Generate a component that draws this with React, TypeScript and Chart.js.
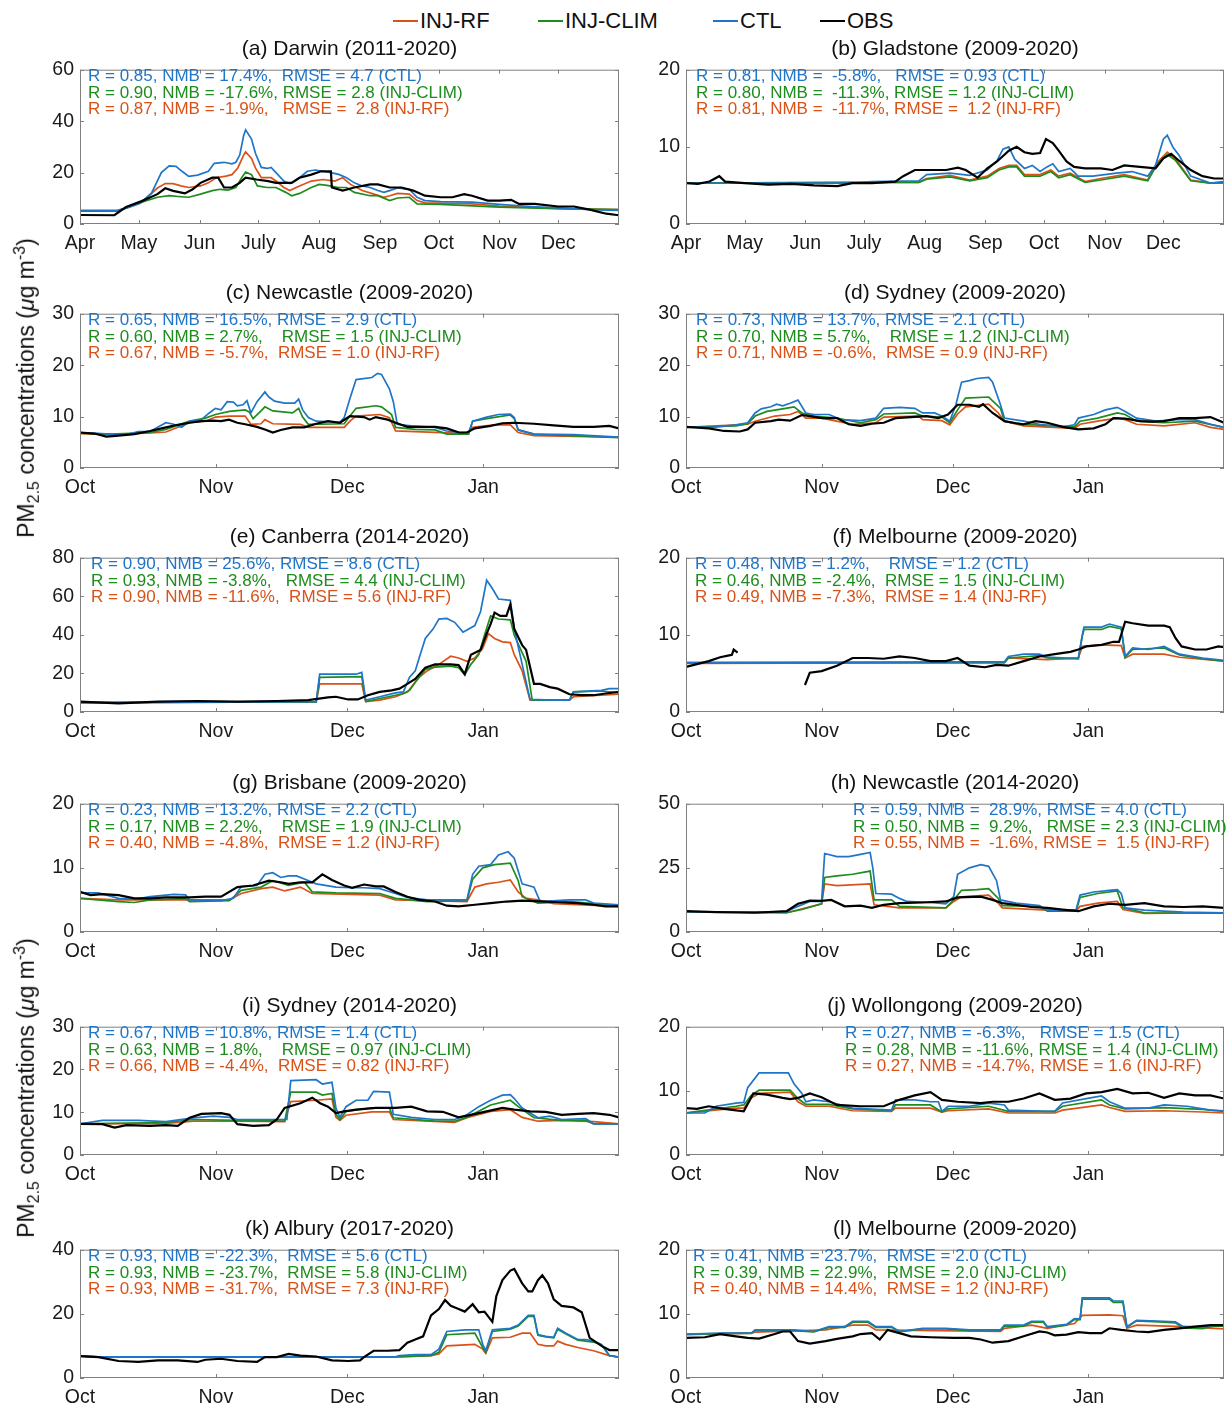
import React, { useEffect, useRef } from 'react';
import { Chart, registerables } from 'chart.js';

Chart.register(...registerables);

const FONT = '"Liberation Sans", Arial, Helvetica, sans-serif';

const COLOR_RF = '#D95319';
const COLOR_CLIM = '#1E8C1E';
const COLOR_CTL = '#1F76C8';
const COLOR_OBS = '#000000';

const seriesNames = ['INJ-RF', 'INJ-CLIM', 'CTL', 'OBS'];
const seriesColors = [COLOR_RF, COLOR_CLIM, COLOR_CTL, COLOR_OBS];

// x axis: day offset from the first day of the season
const aprDecTickDays = [0, 30, 61, 91, 122, 153, 183, 214, 244];
const aprDecTickLabels = ['Apr', 'May', 'Jun', 'July', 'Aug', 'Sep', 'Oct', 'Nov', 'Dec'];
const aprDecLength = 275;
const octJanTickDays = [0, 31, 61, 92];
const octJanTickLabels = ['Oct', 'Nov', 'Dec', 'Jan'];
const octJanLength = 123;

const ticks20 = [0, 10, 20];
const ticks30 = [0, 10, 20, 30];
const ticks40 = [0, 20, 40];
const ticks50 = [0, 25, 50];
const ticks60 = [0, 20, 40, 60];
const ticks80 = [0, 20, 40, 60, 80];

// ---- (a) Darwin ----
const darwinCtl = [[0,5.3],[19,5.3],[25,6.5],[30.5,8],[36.5,12],[41.5,20],[45.5,22.6],[49,22.4],[52,20.5],[55.5,18.5],[60,19],[65.5,20.5],[68.5,23.6],[73.5,24],[77.5,23.4],[79.5,24],[81.5,26.8],[83.5,34.4],[84.5,36.6],[87.5,33],[89.5,27.5],[92.5,22],[95.5,21.6],[97.5,22],[100,20],[104,16.7],[107,15.7],[112,18],[116,20.5],[120,21],[124,20.5],[128,20],[132,19.3],[136,18],[140,16],[144,14.8],[148,14.2],[152,13],[155,12.3],[158,13],[162,14],[168,13.5],[172,10.4],[176,9.1],[184,8.7],[200,8.5],[214,7.6],[230,6.8],[244,6.3],[260,5.6],[275,5.3]];
const darwinClim = [[0,5],[19,5],[25,6.5],[31.5,8.5],[39.5,10.4],[45.5,11],[51.5,10.6],[55.5,10.4],[61.5,11.6],[67.5,13],[71.5,13.5],[75.5,13.2],[79.5,14.2],[82.5,18],[84.5,20.2],[87.5,19.2],[90.5,14.8],[95.5,14.2],[100,14.2],[105,12.3],[108,11],[112,11.9],[118,14.2],[122,15.4],[126,15],[132,14.2],[136,14.2],[140,12.3],[148,11],[152,11],[158,9.1],[162,10.1],[168,10.4],[172,7.8],[184,7.6],[214,6.6],[244,6],[275,5.6]];
const darwinRf = [[0,5],[19,5],[25,6.8],[31.5,8.5],[39.5,14],[43.5,15.7],[47.5,15.7],[51.5,14.8],[55.5,14.2],[61.5,14.8],[65.5,16],[69.5,18],[74.5,18.6],[77.5,19.2],[80.5,21.8],[83.5,26.8],[84.5,28],[87.5,25.5],[89.5,21.8],[92.5,18],[97.5,18],[100,16.7],[104,14.2],[107,13],[112,14.8],[118,16.7],[124,17.3],[130,16.7],[134,18],[138,15.4],[144,13],[150,11.6],[155,10.4],[158,11],[162,11.9],[168,11.6],[172,9.1],[176,8.2],[200,7.8],[214,7],[244,6],[275,5.6]];
const darwinObs = [[0,3.5],[17.5,3.4],[23.5,6.6],[31.5,8.9],[39.5,11.6],[43.5,13.9],[47.5,12.9],[53.5,11.9],[57.5,13.5],[61.5,16],[67.5,18],[70.5,18],[73.5,14.2],[77.5,14.2],[81.5,16],[84.5,18],[90,17.3],[96,16.7],[100,16],[108,16],[112,18],[118,19.2],[123,20.5],[128,20.5],[128.5,14.2],[134,13],[140,14.2],[148,15.4],[152,15.4],[158,14.2],[164,14.2],[170,13],[176,11],[184,10.4],[190,10.4],[196,11.6],[200,11],[208,9.1],[214,9.1],[220,9.4],[224,7.8],[232,7.8],[244,6.8],[252,6.8],[260,5.6],[268.5,4],[275,3.4]];

// ---- (b) Gladstone ----
const gladstoneCtl = [[0,5.3],[85,5.3],[95,5.5],[119,5.6],[123,6.4],[135,6.6],[145,6.3],[154,7],[159,8.2],[162,9.7],[165,10],[168,8.4],[173,7.2],[177,7.6],[181,6.8],[184.5,7.4],[187.5,7.8],[190.5,6.8],[196.4,7.2],[200.4,6.2],[208,6.2],[220,6.6],[228,6.8],[236,6.2],[240,7.6],[244,11],[246,11.5],[249,9.9],[252,8.9],[258,6.2],[268,5.3],[275,5.5]];
const gladstoneClim = [[0,5.3],[95,5.4],[119,5.4],[123,5.8],[135,6.1],[145,5.6],[154,6],[160,7],[165,7.4],[169,7.4],[173,6.2],[181,6.2],[186.5,6.8],[190.5,6],[196.4,6.4],[204,5.4],[212,5.7],[224,6.2],[236,5.6],[241,7.8],[246,9],[250,8.3],[258,5.6],[268,5.3],[275,5.4]];
const gladstoneRf = [[0,5.3],[95,5.4],[119,5.4],[123,5.9],[135,6.3],[145,5.7],[154,6.2],[160,7.2],[165,7.6],[169,7.6],[173,6.4],[181,6.4],[186.5,7],[190.5,6.2],[196.4,6.6],[204,5.5],[212,5.9],[224,6.4],[236,5.7],[241,8],[246,9.3],[250,8.5],[258,5.7],[268,5.3],[275,5.3]];
const gladstoneObs = [[0,5.3],[6,5.2],[12,5.5],[17,6.2],[20,5.5],[30,5.3],[42,5.1],[54,5.2],[65.5,5],[77.4,4.9],[85,5.3],[95,5.3],[107,5.5],[111,6.2],[117,7],[125,7],[133,7],[139,7.3],[143,7],[149,6],[154,7.2],[159,8.1],[165,9.5],[169,10],[173,9.3],[177,9.1],[181,9.2],[184,11],[187.5,10.5],[190.5,9.5],[194.5,8.1],[198.4,7.4],[204,7.2],[212,7.2],[218,7],[224,7.6],[232,7.4],[240,7.2],[244,8.5],[248,9.1],[252,8.2],[258,7],[264,6.2],[270,5.9],[275,5.9]];

// ---- (c) Newcastle 2009-2020 ----
const newcastleCtl = [[0,6.9],[7,6.6],[10.6,6.5],[13.3,7.1],[16,7.1],[19.6,8.8],[21.4,8.5],[23.2,7.9],[25,9.1],[27.7,9.4],[29.5,10.7],[30.9,11.6],[32.2,11.3],[33.6,12.9],[35,12.8],[35.9,12.1],[37.2,12.3],[38.1,13.1],[39,10.7],[40.4,12.9],[42.2,14.8],[43.1,13.8],[44.4,13],[46.7,12.6],[49,12.6],[49.9,13.4],[50.8,11.3],[52.1,9.8],[53.9,9.1],[59.3,8.9],[60.3,9.8],[61.6,13.5],[63,17.2],[66.6,17.6],[67.9,18.4],[68.8,18.2],[70.6,15.4],[71.5,12.9],[72.4,8.5],[75.6,8.2],[81,7.9],[83.7,7.2],[86.4,6.9],[88.7,6.9],[89.6,9.1],[92.8,9.9],[95.5,10.4],[98.2,10.5],[99.1,9.8],[100,7.4],[103.6,6.6],[112.6,6.5],[123,6]];
const newcastleClim = [[0,6.8],[7,6.6],[16,6.9],[19.6,7.5],[25,9.1],[28.6,9.7],[30.9,10.4],[34.1,11],[37.7,11.3],[38.6,10.9],[39.5,9.6],[41.3,11.1],[42.2,11.9],[44,11.1],[48.5,10.7],[49.9,11.6],[50.8,9.9],[52.1,8.5],[60.3,8.6],[61.6,10.1],[63,11.6],[67.5,12.1],[68.8,11.9],[71.1,10.4],[72,7.9],[76.5,7.5],[81,7.4],[83.7,6.6],[88.7,6.6],[89.6,9.1],[92.8,9.6],[98.2,10.3],[99.1,9.6],[100,7.4],[103.6,6.6],[123,5.9]];
const newcastleRf = [[0,6.7],[7,6.5],[16,6.8],[19.6,7],[25,8.8],[28.6,9.1],[30.9,9.9],[34.1,10.1],[37.7,10.1],[39,8.5],[41.3,8.6],[42.2,9.4],[44,8.6],[50.3,8.5],[52.1,7.9],[60.3,7.9],[61.6,9.1],[63,10.1],[68.4,10.4],[70.6,9.8],[72,7.2],[85.5,6.8],[88.7,6.9],[89.6,7.9],[94.6,8.4],[98.2,8.4],[100,6.9],[103.6,6.3],[123,6]];
const newcastleObs = [[0,6.9],[3.3,6.7],[6,6.1],[8.8,6.3],[12.4,6.6],[16,7.2],[19.6,7.9],[22.3,8.4],[25,8.8],[27.7,9.1],[30.4,9.2],[32.2,9.1],[34,9.4],[35.9,8.8],[37.7,8.5],[40.4,8],[42.2,7.5],[44,6.9],[45.8,7.4],[48.5,7.9],[51.2,7.9],[53.9,8.6],[56.6,9.1],[59.3,8.8],[61.6,10.1],[64.8,9.9],[66.1,9.4],[67.5,9.9],[70.2,9.4],[72,8.8],[74.7,8],[77.4,8],[81,8],[83.7,7.7],[86.5,6.9],[88.3,6.9],[90.1,7.7],[93.7,8.2],[96.4,8.7],[99.1,8.8],[103.6,8.6],[108.1,8.3],[112.6,8],[117.2,8],[120.8,8.2],[123,7.7]];

// ---- (d) Sydney 2009-2020 ----
const sydneyCtl = [[0,8],[6,7.9],[11.4,8.4],[14.1,8.8],[15.8,10.7],[17.2,11.5],[19.4,11.9],[20.7,12.4],[22.1,12.1],[23.8,12.6],[25.6,13.2],[27.4,10.7],[29.2,10.4],[32.7,10.4],[35.4,9.4],[39.9,9.2],[43.4,9.7],[45.2,11.6],[48.8,11.8],[52.3,11.6],[54.1,10.7],[56.8,10.7],[58.5,10.1],[60.3,9.1],[61.7,12.3],[63,16.7],[64.8,17],[66.5,17.4],[69.2,17.6],[70.1,16.7],[71.9,12.3],[72.8,9.7],[77.2,9.1],[80.8,8.5],[86.1,8],[88.8,8.4],[89.7,9.7],[93.2,10.4],[95.9,11.3],[98.6,11.8],[100.4,11],[103,9.7],[107.5,9.1],[112,9.4],[116.4,9.4],[119.9,8.5],[123,7.9]];
const sydneyClim = [[0,7.9],[11.4,8.2],[14.1,8.6],[15.8,10.1],[18.5,11],[22.1,11.5],[24.7,11.9],[26.5,10.7],[29.2,10.1],[34.5,9.7],[39.9,8.8],[43.4,9.4],[45.2,10.5],[52.3,10.7],[54.1,10.1],[58.5,9.9],[60.3,8.8],[62.1,11.3],[63.9,13.6],[69.2,13.8],[71.9,11.6],[72.8,9.1],[77.2,8.5],[88.8,8],[90.1,9.1],[94.1,9.7],[98.6,10.7],[100.4,10.4],[103,9.1],[109.3,8.8],[116.4,9.1],[123,7.9]];
const sydneyRf = [[0,7.9],[14.1,8.5],[15.8,9.1],[20.3,10.1],[23.8,10.4],[25.6,11],[27.4,9.7],[31,9.7],[38.1,8.5],[43.4,8.8],[45.2,9.9],[53.2,10.1],[54.1,9.4],[58.5,9.2],[60.3,8.4],[62.1,10.5],[63.9,11.9],[69.2,12.4],[71.4,10.7],[72.8,9.1],[77.2,8.2],[88.8,7.7],[90.1,8.5],[94.1,9.1],[98.6,9.7],[100.4,9.4],[103,8.5],[109.3,8.2],[116.4,8.8],[119.9,7.9],[123,7.5]];
const sydneyObs = [[0,8],[5.2,7.7],[8.7,7.2],[12.3,7.1],[14.1,7.5],[15.8,8.8],[19.4,9.1],[21.2,9.4],[23.8,9.2],[26.5,10.3],[28.3,10.1],[31.1,9.7],[34.5,9.7],[37.2,8.5],[39.9,8.2],[42.5,8.6],[45.2,8.8],[47.9,9.7],[51.4,9.9],[55,10.1],[57.7,9.7],[59.9,10.4],[62.1,12.3],[64.8,12.3],[67,11.9],[67.9,12.4],[70.1,10.7],[72.8,9.1],[75.4,8.7],[77.2,8.5],[79.9,9.1],[82.6,8.8],[86.1,8],[89.7,7.5],[93.2,7.7],[95.9,8.5],[97.7,9.7],[100.4,9.6],[103.9,9.1],[106.6,9],[109.3,9.1],[112.8,9.7],[116.4,9.7],[119.9,9.9],[123,8.8]];

// ---- (e) Canberra ----
const canberraCtl = [[0,4.9],[53.9,5.4],[54.7,19.6],[63,19.6],[64.3,20.5],[65.2,6.2],[68.4,7.9],[72,9.9],[73.8,10.4],[75.2,18],[76.5,21.3],[77.4,28],[78.8,38.1],[80.6,43.1],[81.9,48.2],[83.7,48.5],[85.5,46.5],[87.4,41.4],[90.1,44.8],[91.4,52],[92.8,68.3],[94.1,64],[95.5,58.6],[98.2,57.9],[99.1,43.1],[100.9,24.7],[102.7,6.5],[108.1,6.2],[111.7,6.2],[112.6,10.4],[119,11.2],[120.8,12.1],[123,12.1]];
const canberraClim = [[0,4.9],[53.9,5.2],[54.7,18],[64.3,18.3],[65.2,5.4],[68.4,7],[72,8.7],[73.8,9.6],[75.2,11.2],[76.5,15.4],[78.8,22.1],[81,23.3],[84.6,23.8],[86.4,23],[87.8,19.3],[89.2,24.7],[91,29.7],[92.3,39.8],[93.7,49.8],[95.5,48.2],[98.2,47.8],[99.1,39.8],[101.8,26.3],[103.2,6.2],[111.7,6.2],[112.6,10.4],[119,10.9],[123,9.9]];
const canberraRf = [[0,4.9],[53.9,5.2],[54.7,14.6],[64.3,14.6],[65.2,5.4],[68.4,6.2],[72,7.9],[74.7,10.4],[77.4,18],[79.2,21.3],[81.9,24.7],[84.6,28.9],[86.4,28],[88.3,26.3],[90.1,28],[91.9,33],[93.2,40.6],[94.6,38.1],[96.4,36.4],[98.2,36],[99.1,29.7],[100.9,21.3],[102.7,6.2],[111.7,6.2],[112.6,7.9],[123,9.2]];
const canberraObs = [[0,5.4],[8.8,4.5],[17.8,5.4],[26.8,5.7],[35.9,5.4],[44.9,5.7],[52.1,6.2],[56.6,7.6],[58.4,7.9],[61.2,6.5],[63.4,6.5],[65.7,8.7],[68.4,10.4],[71.1,11.2],[72.9,12.1],[74.7,14.6],[76.5,17.1],[78.8,23],[81,24.7],[84.6,24.7],[86.4,24.3],[87.8,19.6],[89.2,29.7],[91.4,32.2],[92.8,40.6],[93.7,45.6],[94.6,51.5],[95.9,49.8],[97.3,49.8],[98.2,55.7],[99.1,43.1],[100.9,34.7],[101.8,32.2],[103.6,14.6],[105,14.6],[107.2,12.9],[109,12.1],[111.7,9.2],[114.5,8.7],[117.2,8.7],[119.9,9.6],[123,10.4]];

// ---- (f) Melbourne, first series ----
const melbourneACtl = [[0,6.4],[64.8,6.5],[72.8,6.5],[73.7,7.2],[77.2,7.5],[80.8,7.5],[82.6,7.1],[87,7],[89.7,7],[90.6,10],[91,11],[95,11],[96.8,11.4],[99.5,11],[100.4,7.2],[102.1,8.3],[105.7,8.1],[109.3,8.5],[112.8,7.5],[118.1,7],[123,6.7]];
const melbourneAClim = [[0,6.4],[72.8,6.4],[73.7,7],[80.8,7.3],[82.6,7],[89.7,6.9],[90.6,9.8],[91,10.7],[95,10.7],[96.8,11.1],[99.5,10.8],[100.4,7.1],[102.1,8.1],[109.3,8.3],[112.8,7.4],[118.1,6.9],[123,6.6]];
const melbourneARf = [[0,6.3],[72.8,6.4],[73.7,7],[82.6,6.8],[89.7,7],[90.6,8.5],[95,8.7],[99.5,8.6],[100.4,7],[102.1,7.5],[109.3,7.5],[112.8,7.1],[123,6.6]];
const melbourneAObs = [[0,5.85],[2.5,6.2],[5.2,6.6],[7.8,7.1],[9.6,7.3],[10.5,7.4],[10.9,8.1],[11.8,7.7],[12,null],[27.2,3.5],[28.3,5.1],[31,5.3],[34.5,6],[38.1,7],[41.6,7],[45.2,6.9],[48.8,7.2],[52.3,7],[55.9,6.6],[59.4,6.6],[62.1,7],[64.8,6],[68.3,5.8],[71,6.1],[73.7,6],[77.2,6.6],[80.8,7.2],[84.3,7.5],[87.9,7.8],[89.7,8.1],[91.5,8.5],[95,8.7],[97.7,9.1],[99,9.1],[100.4,11.7],[102.1,11.5],[105.7,11.2],[109.3,11.2],[110.6,11],[111.9,9.6],[113.3,8.5],[116.4,8.1],[119,8.1],[121.7,8.5],[123,8.4]];

// ---- (g) Brisbane ----
const brisbaneCtl = [[0,6.1],[4.2,6.1],[8.8,5.25],[12.4,5.1],[16,5.5],[21.4,5.85],[24.1,5.8],[25,5],[32.2,4.9],[35,5.25],[36.8,7.1],[40.4,7.25],[42.2,9],[44,9.25],[45.8,8.5],[47.6,8.75],[49.4,8.75],[51.2,8.25],[53.9,7.5],[58.4,7],[62.1,6.9],[64.8,6.9],[68.4,6.75],[72,6],[74.7,5.4],[79.2,5],[88.3,5],[89.6,9],[91,10.25],[93.7,10.5],[95.5,12],[97.7,12.5],[99.1,11.5],[100.9,7.5],[103.6,7],[105,4.75],[111.7,5],[115.4,5],[117.2,4.5],[123,4.25]];
const brisbaneClim = [[0,5.25],[8.8,4.75],[12.4,4.6],[16,5],[24.1,5.2],[25,4.75],[34.1,4.9],[36.8,6.5],[41.3,7],[44,8],[47.6,7.25],[51.2,7.75],[53,6.25],[58.4,6.1],[68.4,6],[72,5.25],[79.2,4.75],[88.3,4.9],[89.6,8.25],[91.9,10],[94.6,10.5],[98.2,10.75],[100,8],[100.9,5.5],[104.5,4.5],[111.7,4.75],[123,4.1]];
const brisbaneRf = [[0,5.25],[8.8,5],[25,5],[34.1,5],[36.8,6],[41.3,6.75],[44,7],[46.7,6.4],[50.3,7],[53,6],[68.4,5.75],[72,5],[88.3,4.75],[90.1,7],[92.8,7.5],[95.5,7.75],[98.2,8.1],[100,6.25],[101.8,5.25],[104.5,5],[108.1,4.4],[123,4]];
const brisbaneObs = [[0,6.25],[2.4,5.75],[5.1,5.9],[8.8,5.75],[12.4,5.25],[16,5.25],[19.6,5.4],[25,5.4],[28.6,5.5],[32.2,5.5],[35.9,7],[39.5,7.25],[43.1,8],[45.8,7.75],[47.6,7.5],[50.3,7.75],[53,7.75],[55.3,9],[57.5,8.1],[60.3,7.25],[62.1,6.9],[64.8,7.4],[67.5,7.1],[69.3,7.1],[72,6.25],[74.7,5.5],[77.4,5],[81,4.75],[83.7,4.1],[86.4,4],[90.1,4.25],[93.7,4.5],[97.3,4.75],[100.9,4.9],[106.3,4.75],[109.9,4.6],[113.6,4.5],[117.2,4.25],[119.9,4],[123,4]];

// ---- (h) Newcastle 2014-2020 ----
const newcastleBCtl = [[0,7.9],[23,7.9],[25.6,10],[28.3,11.9],[31,11.9],[31.7,30.6],[34.5,29.4],[37.2,29.4],[39.9,30.25],[42.1,31],[42.7,25],[43.4,15],[47,14.75],[48.8,13.1],[50.5,11.9],[55.9,11.5],[59.4,11],[61.2,13.75],[62.1,22.5],[64.8,25],[67.4,26.25],[69.2,25.6],[71,20],[71.9,12.5],[75.4,11.25],[80.8,10.25],[82.6,8.5],[87.9,8.5],[89.2,8.75],[90.1,14.4],[93.2,15.6],[96.8,16.25],[98.6,16.5],[99.5,15],[100.4,9.4],[104.8,8.5],[113.7,7.75],[123,7.5]];
const newcastleBClim = [[0,7.9],[23,7.5],[26.5,8.75],[31,11],[31.7,21.25],[34.5,21.9],[38.1,22.5],[42.1,23.75],[43,12.5],[47,12.5],[48.8,10],[59.4,9.4],[61.2,12.5],[63,16.25],[66.5,16.5],[69.2,16.9],[71.4,13.1],[72.3,10.25],[80.8,10],[82.6,8.1],[89.2,8.1],[90.1,13.5],[94.1,15],[98.6,16],[99.9,9.4],[104.8,7.5],[123,7.3]];
const newcastleBRf = [[0,7.9],[23,7.5],[31,11],[31.7,18.75],[34.5,18.1],[42.1,18.75],[43,10.6],[48.8,9.4],[59.4,9.4],[61.2,11.9],[63,13.75],[69.2,14.4],[71.4,11.25],[72.3,9.4],[82.6,8.5],[89.2,8.1],[90.1,10],[94.1,11.25],[98.6,11.9],[99.9,8.75],[104.8,7.25],[123,7.5]];
const newcastleBObs = [[0,8.1],[6.9,7.75],[15.8,7.5],[23,8.1],[25.6,11],[28.3,12.25],[31,12.1],[33.2,12.5],[36.3,10],[39.9,10.25],[42.5,9.4],[45.2,10.6],[48.8,11.25],[54.1,11.5],[59.4,11.9],[62.1,13.5],[67.4,13.75],[70.1,12.5],[72.3,11.25],[75.4,10.6],[79,9.75],[82.6,9.4],[86.1,8.75],[89.7,8.1],[93.2,10],[96.8,11],[100.4,10.6],[104.8,11.25],[109.3,10],[113.7,9.75],[118.1,10],[123,9.4]];

// ---- (i) Sydney 2014-2020 ----
const sydneyBCtl = [[0,7.3],[5.1,8.1],[13.3,8.1],[19.6,7.8],[25.9,8.7],[30.4,9.1],[34.1,8.8],[35.9,8.3],[47.2,8.3],[48.1,17.4],[53.9,17.6],[55.3,16.6],[57.5,17],[58.4,11],[59.3,8.8],[60.7,11.3],[63,12.8],[65.7,12.8],[67,14.9],[70.6,14.7],[71.5,9.5],[75.6,8.8],[81,8.3],[85.5,8.3],[88.3,9.4],[91,11.3],[93.7,12.8],[96.4,14],[98.2,14.1],[99.1,13.2],[100.9,11],[104.5,8.7],[107.2,9.1],[109.9,8.3],[115.4,8.5],[117.2,7.3],[123,7.3]];
const sydneyBClim = [[0,7.3],[19.6,7.6],[25.9,8.3],[35.9,8.1],[46.7,7.9],[48.1,14.7],[53.9,14.7],[55.3,14],[57.5,14.4],[58.4,9.5],[59.3,8.3],[60.7,10.2],[66.6,11],[70.6,11],[71.5,8.7],[81,7.9],[85.5,7.9],[88.3,8.8],[93.7,11.7],[98.2,12.8],[100,11.3],[103.6,8.7],[109.9,8.1],[115.4,8.1],[117.2,7.3],[123,7.3]];
const sydneyBRf = [[0,7.3],[19.6,7.4],[25.9,7.9],[35.9,7.9],[46.7,7.8],[48.1,12.5],[53.9,12.8],[57.5,13.1],[58.4,8.8],[59.3,8.1],[60.7,9.3],[66.6,10.1],[70.6,10.1],[71.5,8.3],[85.5,7.6],[88.3,8.7],[93.7,10.2],[98.2,10.6],[100.9,8.8],[104.5,7.9],[109.9,8.1],[117.2,7.8],[123,7.3]];
const sydneyBObs = [[0,7.3],[5.1,7.2],[7.9,6.4],[10.6,7],[16,6.8],[19.6,7],[22.3,6.8],[25,8.7],[27.7,9.6],[32.2,9.8],[34.1,9.4],[35.9,7.2],[39.5,6.8],[43.1,7],[44.9,8.3],[46.7,11],[50.3,12.1],[53,13.4],[54.8,12.1],[56.6,11.3],[58.4,9.8],[60.3,10.2],[63,10.6],[67.5,11],[72,11],[75.6,11.3],[79.2,10.2],[82.8,10.1],[86.4,8.8],[89.2,9.4],[92.8,10.2],[96.4,11],[99.1,10.6],[102.7,10.2],[106.3,10.1],[109.9,9.4],[113.6,9.6],[117.2,9.8],[120.8,9.4],[123,8.8]];

// ---- (j) Wollongong ----
const wollongongCtl = [[0,6.55],[4.3,6.55],[6.9,7.6],[11.4,8.1],[13.2,8.2],[14.1,10.5],[16.7,12.8],[23.4,12.8],[24.7,11.1],[26.5,9.6],[27.4,8.3],[29.2,8.6],[32.7,8.3],[38.1,7.3],[47,7],[47.9,8.6],[52.3,8.6],[55.9,8.3],[57.7,8.3],[58.5,6.8],[59.9,7.6],[64.8,7.6],[69.2,8.1],[72.8,7.8],[73.7,7],[82.6,6.8],[84.3,6.8],[86.1,8.1],[91.5,8.8],[95,9.2],[96.8,8.3],[100.4,7.3],[105.7,7.3],[109.3,7.8],[114.6,7.6],[119.9,7],[123,6.9]];
const wollongongClim = [[0,6.55],[11.4,7.6],[13.2,7.8],[14.9,9.3],[16.7,10.1],[23.8,10.1],[25.6,8.8],[27.4,7.9],[32.7,7.9],[38.1,7.2],[47,6.9],[47.9,7.8],[55.9,7.8],[58.5,6.7],[59.9,7.2],[69.2,7.6],[73.7,6.8],[84.3,6.8],[86.1,7.6],[95,8.6],[96.8,7.8],[100.4,7.2],[109.3,7.4],[118.1,7.1],[123,6.8]];
const wollongongRf = [[0,6.55],[11.4,7.3],[13.2,7.3],[14.9,8.9],[16.7,9.6],[23.8,9.8],[25.6,8.3],[27.4,7.6],[32.7,7.6],[38.1,6.9],[47,6.8],[47.9,7.3],[55.9,7.3],[58.5,6.7],[59.9,6.9],[69.2,7.2],[73.7,6.55],[84.3,6.55],[86.1,7],[95,7.8],[96.8,7.4],[100.4,6.8],[109.3,6.9],[118.1,6.7],[123,6.55]];
const wollongongObs = [[0,7.3],[2.5,7.2],[5.2,7.6],[8.7,7.2],[13.2,6.8],[15.4,9.6],[18.5,9.4],[22.1,8.9],[23.8,8.7],[25.6,8.9],[28.3,9.6],[31,9],[34.5,7.8],[39.9,7.6],[45.2,7.6],[48.8,8.6],[52.3,9.3],[55.9,9.8],[58.5,8.6],[62.1,8.3],[67.4,8.1],[70.1,8.3],[73.7,8.3],[77.2,8.8],[80.8,9.6],[84.3,8.6],[87.9,8.8],[91.5,9.6],[95,9.8],[98.6,10.3],[102.1,9.6],[105.7,9.7],[109.3,8.9],[112.8,9.6],[116.4,9.3],[119.9,9.3],[123,8.8]];

// ---- (k) Albury ----
const alburyCtl = [[0,6.8],[4,6.6],[72,6.6],[72.9,7],[76.5,7.3],[80.1,7.3],[81.9,9],[83.7,14.5],[87.8,15],[91,15],[91.9,10.5],[92.6,8.5],[94.1,15],[98.2,15.5],[100,16.5],[102.3,19.5],[103.6,19.5],[104.5,13.5],[106.3,13],[108.1,12.7],[109,15.5],[110.8,14],[113.6,12],[115.4,12],[117.2,11.5],[119,10.5],[120.8,7],[123,6.5]];
const alburyClim = [[0,6.8],[4,6.6],[72,6.6],[80.1,7],[81.9,8],[83.7,13.5],[90.1,14],[91.9,9.5],[92.6,8],[94.1,14.5],[98.2,15.2],[100,16.2],[102.3,19.2],[103.6,19.2],[104.5,13.3],[106.3,12.8],[108.1,12.5],[109,15.2],[110.8,13.8],[113.6,11.8],[117.2,11.2],[119,10.3],[120.8,7],[123,6.5]];
const alburyRf = [[0,6.8],[4,6.6],[72,6.6],[80.1,7],[81.9,7.5],[83.7,10],[90.1,10.5],[91.9,9],[92.6,7.7],[94.1,12.5],[98.2,12.7],[100.9,14],[102.7,14],[104.5,10.5],[106.3,10],[108.1,10],[109,11.5],[110.8,10.5],[113.6,9.5],[117.2,8.5],[120.8,7],[123,6.5]];
const alburyObs = [[0,6.8],[4.2,6.5],[8.8,5.3],[13.3,5],[17.8,5.5],[22.3,5.5],[26.8,5],[28.6,5.7],[32.2,6],[35.9,5.3],[40.4,5],[42.2,6.5],[44.9,6.5],[47.6,7.5],[50.3,7],[53.9,6.7],[57.5,5.5],[61.2,5.3],[63.9,5.5],[64.8,6.5],[67,8.5],[70.2,8.5],[72.9,8.7],[74.7,11],[76.5,12],[78.3,13],[80.1,19.5],[81.9,21.5],[83.3,24.3],[84.6,22.5],[86.4,21.5],[87.8,20.7],[89.6,23],[91,20.5],[92.3,20.7],[94.1,17.5],[95,25.5],[96.4,30.5],[98.2,33.5],[99.1,34],[100.9,29.5],[102.3,27],[103.2,27],[104.5,30.5],[105.5,32],[106.8,29.5],[108.1,24.5],[109.9,22.5],[112.6,22],[114.5,20.5],[116.3,12.5],[119,10],[120.8,8.7],[123,8.7]];

// ---- (l) Melbourne, second series ----
const melbourneBCtl = [[0,6.85],[8.7,7],[14.9,7],[15.8,7.5],[24.7,7.5],[29.2,7.25],[32.7,8],[36.3,8],[38.1,8.85],[41.6,8.85],[43.4,8],[47,8],[48.8,7.25],[54.1,7.75],[59.4,7.75],[64.8,7.5],[71.9,7.5],[72.8,8.25],[77.2,8.25],[79,8.85],[81.7,8.85],[82.6,8],[87,8.35],[88.8,9.25],[90.1,9.2],[90.6,12.5],[96.8,12.5],[97.7,12],[99.9,12],[100.8,8],[103,9],[109.3,8.85],[111.9,8.75],[113.7,8],[118.1,8],[120.8,8.25],[123,8.25]];
const melbourneBClim = [[0,6.8],[8.7,6.95],[14.9,6.95],[15.8,7.4],[24.7,7.4],[29.2,7.2],[32.7,7.9],[36.3,7.9],[38.1,8.7],[41.6,8.7],[43.4,7.9],[47,7.9],[48.8,7.2],[54.1,7.65],[59.4,7.65],[64.8,7.4],[71.9,7.4],[72.8,8.1],[77.2,8.1],[79,8.7],[81.7,8.7],[82.6,7.9],[87,8.25],[88.8,9.1],[90.1,9.1],[90.6,12.3],[96.8,12.3],[97.7,11.8],[99.9,11.8],[100.8,7.9],[103,8.9],[109.3,8.7],[111.9,8.6],[113.7,7.8],[118.1,7.7],[120.8,8.1],[123,8.1]];
const melbourneBRf = [[0,6.75],[14.9,7],[15.8,7.15],[31.9,7.5],[38.1,8.25],[41.6,8.25],[43.4,7.5],[71.9,7.25],[72.8,7.75],[79,8.25],[82.6,7.75],[88.8,8.5],[90.6,9.75],[96.8,9.85],[99.9,9.7],[100.8,7.75],[103,8.25],[113.7,8],[123,7.65]];
const melbourneBObs = [[0,6.25],[4.3,6.35],[7.8,6.85],[11.4,6.5],[14.1,6.25],[16.7,6.15],[20.3,6.85],[22.1,7.25],[23.8,7.25],[25.6,5.75],[28.3,5.35],[31.9,5.75],[34.5,6.1],[38.1,6.5],[39.9,6.85],[42.5,7],[44.3,6],[46.1,7.5],[48.8,7],[51.4,6.5],[55.9,6.35],[61.2,6.25],[64.8,6.25],[67.4,6],[70.1,5.5],[73.7,5.75],[77.2,6.5],[80.8,7.25],[82.6,7.1],[84.3,6.65],[87,6.75],[89.7,7.15],[92.3,7],[95,7],[96.8,7.75],[99.5,7.5],[103,7.25],[105.7,7.15],[109.3,7.5],[112.8,7.75],[116.4,8],[119.9,8.25],[123,8.25]];

// ---- statistics written inside each panel: CTL, INJ-CLIM, INJ-RF ----
const darwinStats = ['R = 0.85, NMB = 17.4%,  RMSE = 4.7 (CTL)', 'R = 0.90, NMB = -17.6%, RMSE = 2.8 (INJ-CLIM)', 'R = 0.87, NMB = -1.9%,   RMSE =  2.8 (INJ-RF)'];
const gladstoneStats = ['R = 0.81, NMB =  -5.8%,   RMSE = 0.93 (CTL)', 'R = 0.80, NMB =  -11.3%, RMSE = 1.2 (INJ-CLIM)', 'R = 0.81, NMB =  -11.7%, RMSE =  1.2 (INJ-RF)'];
const newcastleStats = ['R = 0.65, NMB = 16.5%, RMSE = 2.9 (CTL)', 'R = 0.60, NMB = 2.7%,    RMSE = 1.5 (INJ-CLIM)', 'R = 0.67, NMB = -5.7%,  RMSE = 1.0 (INJ-RF)'];
const sydneyStats = ['R = 0.73, NMB = 13.7%, RMSE = 2.1 (CTL)', 'R = 0.70, NMB = 5.7%,    RMSE = 1.2 (INJ-CLIM)', 'R = 0.71, NMB = -0.6%,  RMSE = 0.9 (INJ-RF)'];
const canberraStats = ['R = 0.90, NMB = 25.6%, RMSE = 8.6 (CTL)', 'R = 0.93, NMB = -3.8%,   RMSE = 4.4 (INJ-CLIM)', 'R = 0.90, NMB = -11.6%,  RMSE = 5.6 (INJ-RF)'];
const melbourneAStats = ['R = 0.48, NMB = 1.2%,    RMSE = 1.2 (CTL)', 'R = 0.46, NMB = -2.4%,  RMSE = 1.5 (INJ-CLIM)', 'R = 0.49, NMB = -7.3%,  RMSE = 1.4 (INJ-RF)'];
const brisbaneStats = ['R = 0.23, NMB = 13.2%, RMSE = 2.2 (CTL)', 'R = 0.17, NMB = 2.2%,    RMSE = 1.9 (INJ-CLIM)', 'R = 0.40, NMB = -4.8%,  RMSE = 1.2 (INJ-RF)'];
const newcastleBStats = ['R = 0.59, NMB =  28.9%, RMSE = 4.0 (CTL)', 'R = 0.50, NMB =  9.2%,   RMSE = 2.3 (INJ-CLIM)', 'R = 0.55, NMB =  -1.6%, RMSE =  1.5 (INJ-RF)'];
const sydneyBStats = ['R = 0.67, NMB = 10.8%, RMSE = 1.4 (CTL)', 'R = 0.63, NMB = 1.8%,    RMSE = 0.97 (INJ-CLIM)', 'R = 0.66, NMB = -4.4%,  RMSE = 0.82 (INJ-RF)'];
const wollongongStats = ['R = 0.27, NMB = -6.3%,   RMSE = 1.5 (CTL)', 'R = 0.28, NMB = -11.6%, RMSE = 1.4 (INJ-CLIM)', 'R = 0.27, NMB = -14.7%, RMSE = 1.6 (INJ-RF)'];
const alburyStats = ['R = 0.93, NMB = -22.3%,  RMSE = 5.6 (CTL)', 'R = 0.93, NMB = -23.7%,  RMSE = 5.8 (INJ-CLIM)', 'R = 0.93, NMB = -31.7%,  RMSE = 7.3 (INJ-RF)'];
const melbourneBStats = ['R = 0.41, NMB = 23.7%,  RMSE = 2.0 (CTL)', 'R = 0.39, NMB = 22.9%,  RMSE = 2.0 (INJ-CLIM)', 'R = 0.40, NMB = 14.4%,  RMSE = 1.2 (INJ-RF)'];

const aprDec = { days: aprDecTickDays, labels: aprDecTickLabels, length: aprDecLength };
const octJan = { days: octJanTickDays, labels: octJanTickLabels, length: octJanLength };

const panels = [
  { title: '(a) Darwin (2011-2020)', col: 0, row: 0, season: aprDec, yMax: 60, yTicks: ticks60, rf: darwinRf, clim: darwinClim, ctl: darwinCtl, obs: darwinObs, stats: darwinStats, statsX: 88 },
  { title: '(b) Gladstone (2009-2020)', col: 1, row: 0, season: aprDec, yMax: 20, yTicks: ticks20, rf: gladstoneRf, clim: gladstoneClim, ctl: gladstoneCtl, obs: gladstoneObs, stats: gladstoneStats, statsX: 696 },
  { title: '(c) Newcastle (2009-2020)', col: 0, row: 1, season: octJan, yMax: 30, yTicks: ticks30, rf: newcastleRf, clim: newcastleClim, ctl: newcastleCtl, obs: newcastleObs, stats: newcastleStats, statsX: 88 },
  { title: '(d) Sydney (2009-2020)', col: 1, row: 1, season: octJan, yMax: 30, yTicks: ticks30, rf: sydneyRf, clim: sydneyClim, ctl: sydneyCtl, obs: sydneyObs, stats: sydneyStats, statsX: 696 },
  { title: '(e) Canberra (2014-2020)', col: 0, row: 2, season: octJan, yMax: 80, yTicks: ticks80, rf: canberraRf, clim: canberraClim, ctl: canberraCtl, obs: canberraObs, stats: canberraStats, statsX: 91 },
  { title: '(f) Melbourne (2009-2020)', col: 1, row: 2, season: octJan, yMax: 20, yTicks: ticks20, rf: melbourneARf, clim: melbourneAClim, ctl: melbourneACtl, obs: melbourneAObs, stats: melbourneAStats, statsX: 695 },
  { title: '(g) Brisbane (2009-2020)', col: 0, row: 3, season: octJan, yMax: 20, yTicks: ticks20, rf: brisbaneRf, clim: brisbaneClim, ctl: brisbaneCtl, obs: brisbaneObs, stats: brisbaneStats, statsX: 88 },
  { title: '(h) Newcastle (2014-2020)', col: 1, row: 3, season: octJan, yMax: 50, yTicks: ticks50, rf: newcastleBRf, clim: newcastleBClim, ctl: newcastleBCtl, obs: newcastleBObs, stats: newcastleBStats, statsX: 853 },
  { title: '(i) Sydney (2014-2020)', col: 0, row: 4, season: octJan, yMax: 30, yTicks: ticks30, rf: sydneyBRf, clim: sydneyBClim, ctl: sydneyBCtl, obs: sydneyBObs, stats: sydneyBStats, statsX: 88 },
  { title: '(j) Wollongong (2009-2020)', col: 1, row: 4, season: octJan, yMax: 20, yTicks: ticks20, rf: wollongongRf, clim: wollongongClim, ctl: wollongongCtl, obs: wollongongObs, stats: wollongongStats, statsX: 845 },
  { title: '(k) Albury (2017-2020)', col: 0, row: 5, season: octJan, yMax: 40, yTicks: ticks40, rf: alburyRf, clim: alburyClim, ctl: alburyCtl, obs: alburyObs, stats: alburyStats, statsX: 88 },
  { title: '(l) Melbourne (2009-2020)', col: 1, row: 5, season: octJan, yMax: 20, yTicks: ticks20, rf: melbourneBRf, clim: melbourneBClim, ctl: melbourneBCtl, obs: melbourneBObs, stats: melbourneBStats, statsX: 693 },
];

// page layout
const COLS = [{ left: 80, width: 539 }, { left: 686, width: 538 }];
const ROWS = [
  { top: 66, height: 158 }, { top: 310, height: 158 }, { top: 554, height: 158 },
  { top: 800, height: 132 }, { top: 1023, height: 132 }, { top: 1246, height: 132 },
];
const PAD_L = 62, PAD_T = 14, PAD_R = 10, PAD_B = 44;
const TICK_FONT = { family: FONT, size: 19.5 };

// box around the plot area with inward tick marks on all four sides
const framePlugin = {
  id: 'frame',
  afterDatasetsDraw(chart: any) {
    const { ctx, chartArea, scales } = chart;
    const { left, right, top, bottom } = chartArea;
    ctx.save();
    ctx.strokeStyle = '#808080';
    ctx.lineWidth = 1;
    ctx.strokeRect(left + 0.5, top + 0.5, right - left - 1, bottom - top - 1);
    const tl = 4;
    ctx.beginPath();
    scales.x.ticks.forEach((t: any) => {
      const px = Math.round(scales.x.getPixelForValue(t.value)) + 0.5;
      ctx.moveTo(px, bottom); ctx.lineTo(px, bottom - tl);
      ctx.moveTo(px, top); ctx.lineTo(px, top + tl);
    });
    scales.y.ticks.forEach((t: any) => {
      const py = Math.round(scales.y.getPixelForValue(t.value)) + 0.5;
      ctx.moveTo(left, py); ctx.lineTo(left + tl, py);
      ctx.moveTo(right, py); ctx.lineTo(right - tl, py);
    });
    ctx.stroke();
    ctx.restore();
  },
};

function lineDataset(pairs: any[], color: string, width: number) {
  return {
    data: pairs.map(([x, y]) => ({ x, y })),
    borderColor: color,
    backgroundColor: color,
    borderWidth: width,
    pointRadius: 0,
    fill: false,
    tension: 0,
    spanGaps: false,
  };
}

function PanelChart({ p }: { p: any }) {
  const ref = useRef<HTMLCanvasElement | null>(null);
  const col = COLS[p.col];
  const row = ROWS[p.row];
  const cw = PAD_L + col.width + PAD_R;
  const ch = PAD_T + row.height + PAD_B;

  useEffect(() => {
    if (!ref.current) return;
    const chart = new Chart(ref.current, {
      type: 'line',
      data: {
        datasets: [
          lineDataset(p.obs, COLOR_OBS, 2.2),
          lineDataset(p.ctl, COLOR_CTL, 1.7),
          lineDataset(p.clim, COLOR_CLIM, 1.7),
          lineDataset(p.rf, COLOR_RF, 1.7),
        ],
      },
      options: {
        responsive: false,
        animation: false,
        events: [],
        layout: { autoPadding: false, padding: { left: 0, top: PAD_T, right: PAD_R, bottom: 0 } },
        plugins: { legend: { display: false }, tooltip: { enabled: false }, title: { display: false } },
        scales: {
          x: {
            type: 'linear',
            min: 0,
            max: p.season.length,
            grid: { display: false, drawTicks: false },
            border: { display: false },
            afterBuildTicks: (s: any) => { s.ticks = p.season.days.map((v: number) => ({ value: v })); },
            afterFit: (s: any) => { s.height = PAD_B; },
            ticks: {
              autoSkip: false, maxRotation: 0, minRotation: 0, padding: 8,
              color: '#1a1a1a', font: TICK_FONT,
              callback: (_v: any, i: number) => p.season.labels[i],
            },
          },
          y: {
            type: 'linear',
            min: 0,
            max: p.yMax,
            grid: { display: false, drawTicks: false },
            border: { display: false },
            afterBuildTicks: (s: any) => { s.ticks = p.yTicks.map((v: number) => ({ value: v })); },
            afterFit: (s: any) => { s.width = PAD_L; },
            ticks: { padding: 6, color: '#1a1a1a', font: TICK_FONT, callback: (v: any) => String(v) },
          },
        },
      } as any,
      plugins: [framePlugin],
    });
    return () => chart.destroy();
  }, [p]);

  return (
    <canvas
      ref={ref}
      width={cw}
      height={ch}
      style={{ position: 'absolute', left: col.left - PAD_L, top: row.top - PAD_T, width: cw, height: ch }}
    />
  );
}

function PanelText({ p }: { p: any }) {
  const col = COLS[p.col];
  const row = ROWS[p.row];
  const statColors = [COLOR_CTL, COLOR_CLIM, COLOR_RF];
  return (
    <>
      <div
        style={{
          position: 'absolute', left: col.left, top: row.top - 30, width: col.width,
          textAlign: 'center', fontFamily: FONT, fontSize: 21, lineHeight: '24px', color: '#111', whiteSpace: 'nowrap',
        }}
      >
        {p.title}
      </div>
      <div style={{ position: 'absolute', left: p.statsX, top: row.top + 2, fontFamily: FONT, fontSize: 17, lineHeight: '16.5px', whiteSpace: 'pre' }}>
        {p.stats.map((s: string, i: number) => (
          <div key={i} style={{ color: statColors[i] }}>{s}</div>
        ))}
      </div>
    </>
  );
}

const legendX = [393, 538, 713, 820];

function Legend() {
  return (
    <>
      {seriesNames.map((name, i) => (
        <div
          key={name}
          style={{
            position: 'absolute', left: legendX[i], top: 8, height: 26, display: 'flex', alignItems: 'center',
            fontFamily: FONT, fontSize: 22, color: '#111', whiteSpace: 'nowrap',
          }}
        >
          <span style={{ display: 'inline-block', width: 25, height: 2, background: seriesColors[i], marginRight: 2 }} />
          {name}
        </div>
      ))}
    </>
  );
}

function YLabel({ cy }: { cy: number }) {
  return (
    <div
      style={{
        position: 'absolute', left: 27, top: cy, transform: 'translate(-50%, -50%) rotate(-90deg)',
        fontFamily: FONT, fontSize: 23, color: '#111', whiteSpace: 'nowrap',
      }}
    >
      PM<sub style={{ fontSize: 16 }}>2.5</sub> concentrations (<i>μ</i>g m<sup style={{ fontSize: 16 }}>-3</sup>)
    </div>
  );
}

export default function App() {
  return (
    <div style={{ position: 'absolute', left: 0, top: 0, width: 1228, height: 1407, background: '#fff', overflow: 'hidden' }}>
      <Legend />
      {panels.map((p) => (
        <React.Fragment key={p.title}>
          <PanelChart p={p} />
          <PanelText p={p} />
        </React.Fragment>
      ))}
      <YLabel cy={388} />
      <YLabel cy={1088} />
    </div>
  );
}
